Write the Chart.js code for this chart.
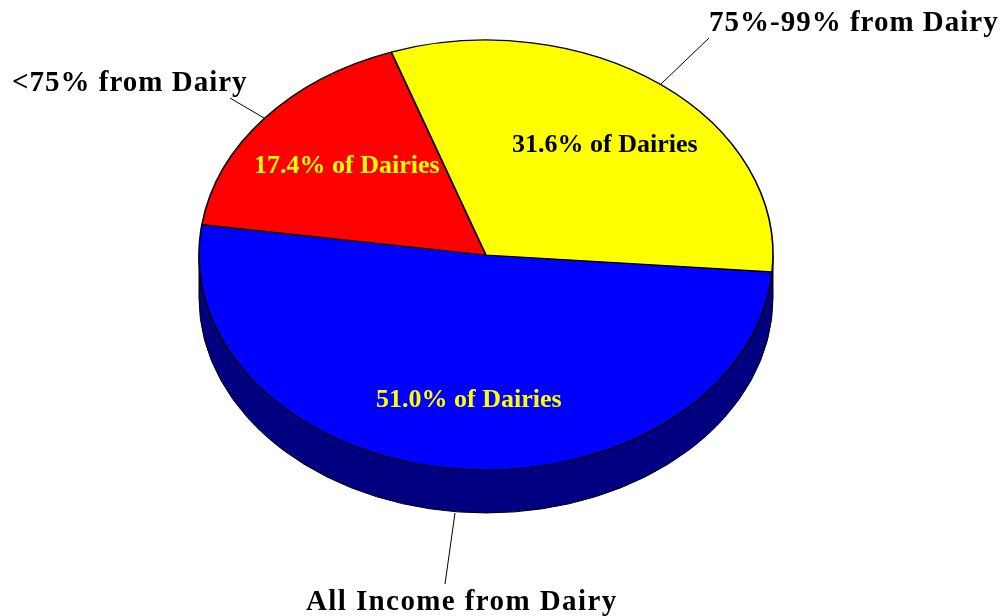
<!DOCTYPE html>
<html>
<head>
<meta charset="utf-8">
<title>Dairy income</title>
<script src="https://cdn.jsdelivr.net/npm/chart.js@4"></script>
<style>
    html, body { margin: 0; padding: 0; background: #fff; }
    canvas { display: block; }
</style>
</head>
<body>
<canvas id="chartPizza" width="1000" height="616"></canvas>
<script>
// dados
const categorias = ['All Income from Dairy', '<75% from Dairy', '75%-99% from Dairy'];
const valores = [51.0, 17.4, 31.6];
const cores = ['#0000ff', '#ff0000', '#ffff00'];
const coresTexto = ['#ffff00', '#ffff00', '#000000'];

// aparência do "3D"
const ACHATAMENTO = 0.749;
const PROFUNDIDADE = 43;
const COR_LATERAL = '#000080';

const fonteRotulo = 'bold 29px "Liberation Serif"';
const fonteInterna = 'bold 26px "Liberation Serif"';

// posição dos textos, na mesma ordem das categorias
const rotulos = [
    { x: 306, y: 610, espaco: '1.4px', linha: [455, 513, 445, 584] },
    { x: 12, y: 91, espaco: '1px', linha: [264, 118, 230, 98] },
    { x: 709, y: 31, espaco: '1px', linha: [661, 84, 709, 38] }
];
const internos = [[376, 407], [254, 173], [512, 152]];

const pizza3d = {
    id: 'pizza3d',
    beforeDatasetsDraw(chart) {
        const ctx = chart.ctx;
        const arco = chart.getDatasetMeta(0).data[0];
        const rx = arco.outerRadius;
        const ry = rx * ACHATAMENTO;

        // parede lateral
        ctx.save();
        ctx.beginPath();
        ctx.moveTo(arco.x + rx, arco.y);
        ctx.lineTo(arco.x + rx, arco.y + PROFUNDIDADE);
        ctx.ellipse(arco.x, arco.y + PROFUNDIDADE, rx, ry, 0, 0, Math.PI);
        ctx.lineTo(arco.x - rx, arco.y);
        ctx.closePath();
        ctx.fillStyle = COR_LATERAL;
        ctx.fill();
        ctx.lineWidth = 1;
        ctx.strokeStyle = '#000';
        ctx.stroke();
        ctx.restore();

        // achata a pizza em torno do centro
        ctx.save();
        ctx.translate(0, arco.y * (1 - ACHATAMENTO));
        ctx.scale(1, ACHATAMENTO);
    },
    afterDatasetsDraw(chart) {
        const ctx = chart.ctx;
        ctx.restore();

        ctx.save();
        ctx.textBaseline = 'alphabetic';
        ctx.textAlign = 'left';

        categorias.forEach((nome, i) => {
            const r = rotulos[i];
            ctx.beginPath();
            ctx.moveTo(r.linha[0], r.linha[1]);
            ctx.lineTo(r.linha[2], r.linha[3]);
            ctx.lineWidth = 1;
            ctx.strokeStyle = '#000';
            ctx.stroke();

            ctx.font = fonteRotulo;
            ctx.letterSpacing = r.espaco;
            ctx.fillStyle = '#000';
            ctx.fillText(nome, r.x, r.y);

            ctx.font = fonteInterna;
            ctx.letterSpacing = '0px';
            ctx.fillStyle = coresTexto[i];
            ctx.fillText(valores[i].toFixed(1) + '% of Dairies', internos[i][0], internos[i][1]);
        });
        ctx.restore();
    }
};

new Chart(document.getElementById('chartPizza').getContext('2d'), {
    type: 'pie',
    data: {
        labels: categorias,
        datasets: [{
            data: valores,
            backgroundColor: cores,
            borderColor: '#000000',
            borderWidth: 1.6,
            radius: 287,
            clip: false
        }]
    },
    options: {
        responsive: false,
        animation: false,
        rotation: 94.5,
        layout: { padding: { right: 28, bottom: 106 } },
        plugins: {
            legend: { display: false },
            tooltip: { enabled: false }
        }
    },
    plugins: [pizza3d]
});
</script>
</body>
</html>
